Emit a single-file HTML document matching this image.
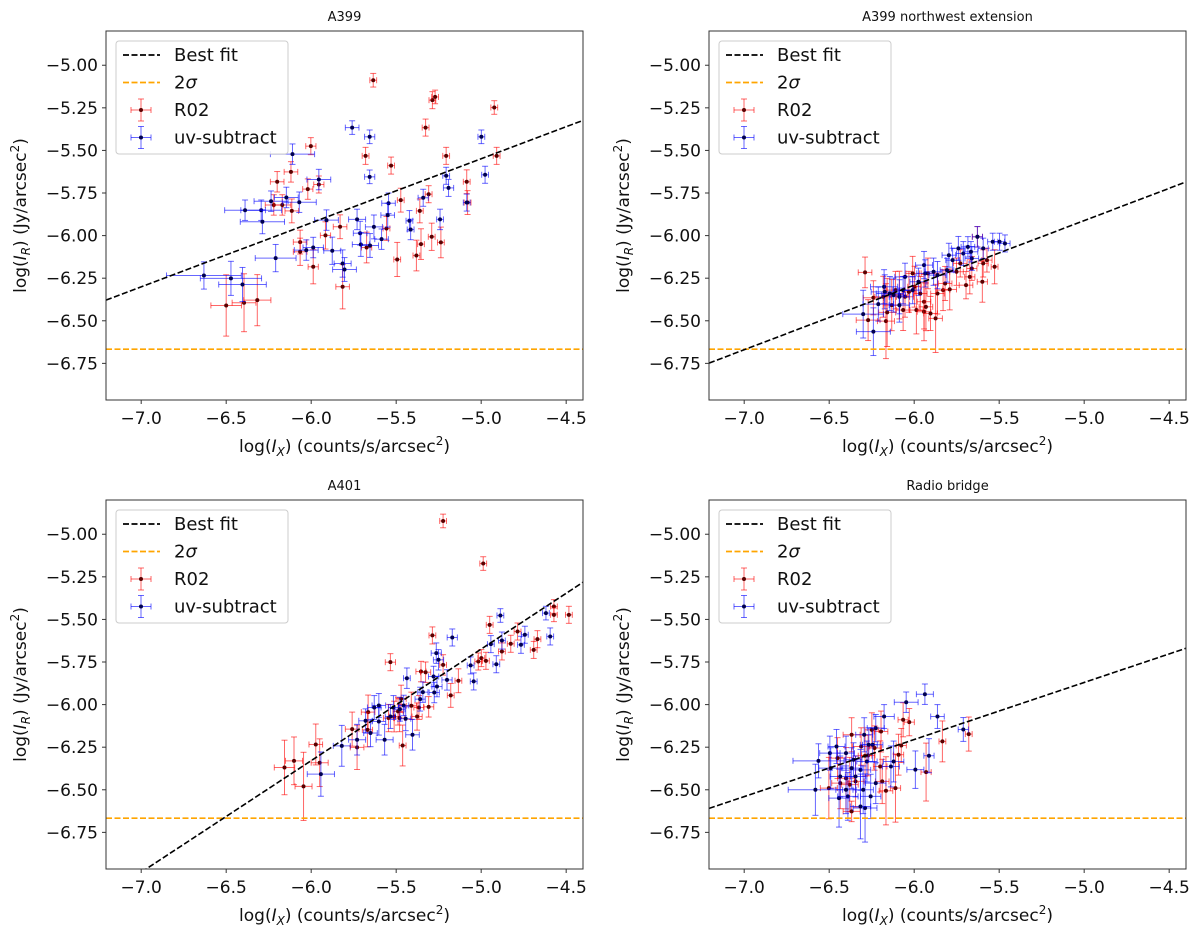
<!DOCTYPE html>
<html><head><meta charset="utf-8"><style>
html,body{margin:0;padding:0;background:#fff}
svg{display:block;font-family:"DejaVu Sans","Liberation Sans",sans-serif}
</style></head><body>
<svg id="fig" width="1200" height="936" viewBox="0 0 1200 936" xmlns="http://www.w3.org/2000/svg"></svg>
<script>
// ---- data (x, y, xerr, yerr) ----
const xTicks = [-7.0, -6.5, -6.0, -5.5, -5.0, -4.5];
const xTickLabels = ["\u22127.0","\u22126.5","\u22126.0","\u22125.5","\u22125.0","\u22124.5"];
const yTicks = [-5.00, -5.25, -5.50, -5.75, -6.00, -6.25, -6.50, -6.75];
const yTickLabels = ["\u22125.00","\u22125.25","\u22125.50","\u22125.75","\u22126.00","\u22126.25","\u22126.50","\u22126.75"];
const panelTitles = ["A399","A399 northwest extension","A401","Radio bridge"];
const sigma2 = -6.667;
const fit1 = [0.376, -3.669];
const fit2 = [0.379, -4.017];
const fit3 = [0.655, -2.399];
const fit4 = [0.335, -4.195];

const p1Red = [
[-5.635,-5.088,0.02,0.04],[-5.287,-5.205,0.02,0.05],[-5.271,-5.186,0.02,0.04],[-4.923,-5.248,0.02,0.04],
[-5.327,-5.366,0.02,0.05],[-4.909,-5.532,0.02,0.05],[-5.206,-5.532,0.02,0.05],[-5.530,-5.589,0.02,0.05],
[-5.680,-5.532,0.02,0.05],[-6.002,-5.475,0.03,0.05],[-6.119,-5.626,0.04,0.06],[-6.200,-5.684,0.04,0.06],
[-6.020,-5.727,0.03,0.06],[-5.955,-5.700,0.03,0.05],[-5.085,-5.684,0.02,0.07],[-5.309,-5.757,0.02,0.05],
[-5.473,-5.792,0.02,0.07],[-5.361,-5.855,0.02,0.07],[-5.080,-5.806,0.02,0.07],[-6.220,-5.820,0.05,0.06],
[-6.170,-5.820,0.05,0.06],[-6.114,-5.855,0.04,0.07],[-5.830,-5.948,0.04,0.07],[-5.557,-5.958,0.02,0.07],
[-5.916,-5.999,0.03,0.08],[-5.291,-6.007,0.02,0.08],[-5.237,-6.040,0.02,0.09],[-5.354,-6.050,0.02,0.09],
[-5.674,-6.070,0.03,0.09],[-6.065,-6.038,0.04,0.07],[-6.065,-6.095,0.04,0.08],[-5.988,-6.183,0.03,0.10],
[-5.381,-6.117,0.02,0.09],[-5.494,-6.140,0.02,0.10],[-5.815,-6.300,0.04,0.13],[-6.500,-6.410,0.09,0.18],
[-6.395,-6.394,0.07,0.17],[-6.317,-6.379,0.08,0.15]
];
const p1Blue = [
[-5.759,-5.366,0.04,0.04],[-5.656,-5.420,0.03,0.04],[-5.656,-5.655,0.03,0.04],[-4.999,-5.420,0.02,0.04],
[-4.977,-5.643,0.02,0.05],[-6.110,-5.522,0.13,0.06],[-5.955,-5.671,0.07,0.06],[-5.206,-5.649,0.02,0.05],
[-5.192,-5.720,0.03,0.05],[-5.085,-5.806,0.02,0.05],[-5.341,-5.778,0.03,0.05],[-5.545,-5.810,0.04,0.06],
[-6.146,-5.776,0.07,0.06],[-6.070,-5.804,0.10,0.06],[-6.236,-5.798,0.10,0.06],[-6.294,-5.851,0.12,0.06],
[-6.287,-5.919,0.13,0.07],[-6.389,-5.851,0.12,0.06],[-5.422,-5.913,0.02,0.06],[-5.415,-5.964,0.02,0.06],
[-5.242,-5.905,0.02,0.06],[-5.730,-5.905,0.05,0.06],[-5.712,-5.986,0.04,0.07],[-5.631,-5.949,0.05,0.07],
[-5.550,-5.880,0.04,0.07],[-5.586,-6.021,0.04,0.06],[-5.708,-6.052,0.05,0.07],[-5.654,-6.058,0.05,0.07],
[-5.910,-5.909,0.07,0.06],[-6.029,-6.085,0.07,0.06],[-5.988,-6.070,0.06,0.06],[-5.876,-6.089,0.05,0.08],
[-6.209,-6.132,0.12,0.08],[-5.815,-6.164,0.05,0.08],[-5.804,-6.199,0.07,0.07],[-6.631,-6.234,0.22,0.08],
[-6.472,-6.251,0.18,0.10],[-6.404,-6.287,0.14,0.10]
];
const p2Red = [
[-6.289,-6.216,0.04,0.09],[-6.271,-6.496,0.07,0.12],[-6.240,-6.365,0.06,0.10],[-6.166,-6.502,0.05,0.22],
[-6.159,-6.451,0.05,0.20],[-6.132,-6.408,0.05,0.15],[-6.110,-6.320,0.05,0.11],[-6.087,-6.349,0.05,0.14],
[-6.054,-6.359,0.05,0.12],[-6.031,-6.330,0.04,0.12],[-5.998,-6.300,0.04,0.12],[-5.987,-6.437,0.04,0.14],
[-5.964,-6.340,0.04,0.10],[-5.942,-6.388,0.04,0.16],[-5.942,-6.447,0.04,0.17],[-5.931,-6.418,0.04,0.14],
[-5.904,-6.457,0.04,0.10],[-5.874,-6.486,0.04,0.20],[-5.863,-6.340,0.04,0.12],[-5.830,-6.320,0.04,0.12],
[-5.818,-6.281,0.04,0.10],[-5.791,-6.316,0.04,0.12],[-5.751,-6.212,0.04,0.08],[-5.695,-6.291,0.04,0.08],
[-5.673,-6.242,0.03,0.10],[-5.661,-6.193,0.03,0.07],[-5.628,-6.007,0.03,0.06],[-5.599,-6.271,0.03,0.12],
[-5.594,-6.163,0.03,0.08],[-5.527,-6.183,0.02,0.10],[-5.572,-6.144,0.03,0.07],[-6.009,-6.222,0.04,0.10],
[-6.065,-6.437,0.04,0.12],[-5.919,-6.222,0.04,0.09],[-6.182,-6.359,0.05,0.12],[-5.729,-6.163,0.04,0.08]
];
const p2Blue = [
[-6.300,-6.461,0.12,0.14],[-6.240,-6.564,0.10,0.14],[-6.177,-6.300,0.08,0.10],[-6.173,-6.330,0.08,0.10],
[-6.143,-6.340,0.08,0.10],[-6.087,-6.359,0.06,0.10],[-6.054,-6.242,0.06,0.08],[-6.087,-6.408,0.06,0.10],
[-6.065,-6.320,0.06,0.08],[-5.975,-6.271,0.05,0.08],[-5.942,-6.173,0.05,0.08],[-5.935,-6.222,0.05,0.08],
[-5.886,-6.212,0.05,0.08],[-5.863,-6.232,0.05,0.08],[-5.807,-6.203,0.04,0.07],[-5.796,-6.115,0.04,0.07],
[-5.774,-6.144,0.04,0.07],[-5.740,-6.075,0.04,0.07],[-5.711,-6.105,0.04,0.07],[-5.684,-6.066,0.04,0.06],
[-5.661,-6.134,0.04,0.07],[-5.628,-6.007,0.03,0.06],[-5.594,-6.075,0.03,0.06],[-5.538,-6.036,0.03,0.05],
[-5.498,-6.036,0.03,0.05],[-5.466,-6.046,0.03,0.05],[-5.666,-6.095,0.04,0.06],[-6.009,-6.320,0.05,0.08],
[-6.211,-6.402,0.09,0.10],[-6.121,-6.349,0.07,0.10]
];
const p3Red = [
[-5.224,-4.922,0.02,0.04],[-4.988,-5.172,0.02,0.04],[-4.572,-5.424,0.02,0.04],[-4.572,-5.473,0.02,0.04],
[-4.484,-5.473,0.02,0.05],[-4.950,-5.532,0.02,0.05],[-5.287,-5.594,0.02,0.05],[-4.786,-5.571,0.02,0.05],
[-4.826,-5.643,0.02,0.05],[-4.669,-5.616,0.02,0.05],[-4.691,-5.679,0.02,0.05],[-4.878,-5.688,0.02,0.05],
[-5.017,-5.747,0.02,0.05],[-4.999,-5.727,0.02,0.05],[-4.972,-5.743,0.02,0.05],[-5.534,-5.751,0.03,0.05],
[-5.224,-5.767,0.02,0.06],[-5.354,-5.806,0.03,0.06],[-5.327,-5.810,0.03,0.06],[-5.134,-5.860,0.02,0.07],
[-5.179,-5.946,0.02,0.07],[-5.366,-6.017,0.03,0.07],[-5.309,-6.013,0.03,0.06],[-5.377,-6.070,0.03,0.08],
[-5.411,-6.007,0.03,0.08],[-5.471,-5.966,0.03,0.08],[-5.489,-6.040,0.03,0.08],[-5.545,-6.079,0.03,0.08],
[-5.512,-6.070,0.03,0.09],[-5.480,-6.079,0.03,0.08],[-5.665,-6.044,0.04,0.10],[-5.669,-6.148,0.03,0.10],
[-5.759,-6.144,0.04,0.10],[-5.730,-6.251,0.04,0.13],[-5.462,-6.240,0.02,0.12],[-5.973,-6.234,0.04,0.12],
[-5.950,-6.341,0.05,0.14],[-6.157,-6.369,0.06,0.16],[-6.101,-6.330,0.05,0.14],[-6.045,-6.480,0.05,0.20]
];
const p3Blue = [
[-4.887,-5.477,0.02,0.04],[-4.619,-5.463,0.02,0.04],[-4.594,-5.600,0.02,0.05],[-4.743,-5.590,0.02,0.05],
[-4.766,-5.649,0.02,0.05],[-4.878,-5.624,0.02,0.05],[-4.943,-5.645,0.02,0.05],[-5.170,-5.606,0.03,0.05],
[-5.264,-5.698,0.03,0.06],[-5.251,-5.737,0.03,0.06],[-5.062,-5.770,0.02,0.05],[-4.911,-5.763,0.02,0.05],
[-5.044,-5.864,0.02,0.05],[-5.437,-5.845,0.02,0.06],[-5.280,-5.835,0.03,0.06],[-5.201,-5.855,0.03,0.06],
[-5.260,-5.894,0.03,0.06],[-5.343,-5.927,0.03,0.06],[-5.276,-5.929,0.03,0.06],[-5.359,-5.968,0.03,0.07],
[-5.456,-6.005,0.03,0.06],[-5.516,-6.017,0.03,0.07],[-5.478,-6.027,0.03,0.07],[-5.534,-6.070,0.03,0.07],
[-5.444,-6.083,0.03,0.07],[-5.602,-6.005,0.04,0.07],[-5.629,-6.017,0.04,0.07],[-5.680,-6.095,0.04,0.07],
[-5.602,-6.099,0.04,0.08],[-5.651,-6.167,0.04,0.08],[-5.730,-6.206,0.05,0.09],[-5.568,-6.206,0.05,0.09],
[-5.404,-6.177,0.04,0.09],[-5.820,-6.242,0.05,0.12],[-5.943,-6.408,0.08,0.13]
];
const p4Red = [
[-5.679,-6.173,0.02,0.10],[-5.834,-6.216,0.02,0.12],[-5.930,-6.396,0.03,0.17],[-6.029,-6.103,0.03,0.08],
[-6.065,-6.089,0.03,0.10],[-6.110,-6.490,0.03,0.20],[-6.092,-6.294,0.03,0.12],[-6.076,-6.240,0.03,0.10],
[-6.195,-6.158,0.04,0.12],[-6.200,-6.363,0.04,0.15],[-6.188,-6.451,0.04,0.13],[-6.233,-6.255,0.04,0.13],
[-6.271,-6.298,0.04,0.12],[-6.289,-6.300,0.04,0.12],[-6.312,-6.246,0.05,0.11],[-6.345,-6.451,0.05,0.15],
[-6.379,-6.470,0.05,0.16],[-6.401,-6.432,0.05,0.18],[-6.435,-6.461,0.05,0.15],[-6.451,-6.314,0.05,0.12],
[-6.502,-6.490,0.05,0.18],[-6.368,-6.177,0.05,0.10],[-6.249,-6.148,0.04,0.10],[-6.166,-6.506,0.04,0.20],
[-6.368,-6.627,0.05,0.06]
];
const p4Blue = [
[-5.937,-5.939,0.05,0.06],[-6.047,-5.986,0.07,0.06],[-6.177,-6.070,0.06,0.07],[-5.863,-6.070,0.04,0.07],
[-5.711,-6.146,0.03,0.07],[-5.913,-6.300,0.03,0.10],[-5.993,-6.382,0.05,0.11],[-6.121,-6.334,0.06,0.12],
[-6.137,-6.363,0.05,0.12],[-6.226,-6.138,0.05,0.08],[-6.244,-6.236,0.06,0.10],[-6.256,-6.539,0.06,0.13],
[-6.289,-6.607,0.07,0.20],[-6.316,-6.598,0.06,0.19],[-6.390,-6.539,0.06,0.14],[-6.442,-6.549,0.06,0.17],
[-6.581,-6.500,0.16,0.15],[-6.563,-6.330,0.15,0.10],[-6.496,-6.285,0.06,0.10],[-6.457,-6.246,0.05,0.10],
[-6.401,-6.285,0.05,0.10],[-6.357,-6.324,0.05,0.10],[-6.345,-6.422,0.06,0.12],[-6.316,-6.383,0.06,0.12],
[-6.300,-6.500,0.06,0.14],[-6.278,-6.334,0.06,0.12],[-6.226,-6.461,0.06,0.12],[-6.435,-6.422,0.06,0.12],
[-6.368,-6.373,0.06,0.12],[-6.491,-6.373,0.07,0.12],[-6.401,-6.500,0.06,0.14],[-6.294,-6.177,0.05,0.10],
[-6.267,-6.236,0.05,0.10]
];

// ---- layout ----
const NS = "http://www.w3.org/2000/svg";
const svg = document.getElementById('fig');
const XMIN = -7.207, XMAX = -4.401, YMIN = -6.965, YMAX = -4.799;
const panels = [
  {x0:106, y0:31, red:p1Red, blue:p1Blue, fit:fit1},
  {x0:709, y0:31, red:p2Red, blue:p2Blue, fit:fit2},
  {x0:106, y0:500, red:p3Red, blue:p3Blue, fit:fit3},
  {x0:709, y0:500, red:p4Red, blue:p4Blue, fit:fit4}
];
const W = 477, H = 369;

function mk(tag, attrs, parent){
  const e = document.createElementNS(NS, tag);
  for (const k in attrs) e.setAttribute(k, attrs[k]);
  parent.appendChild(e);
  return e;
}

panels.forEach((p, i) => {
  const sx = v => p.x0 + (v - XMIN) / (XMAX - XMIN) * W;
  const sy = v => p.y0 + (YMAX - v) / (YMAX - YMIN) * H;
  const g = mk('g', {}, svg);
  
  

  const clipId = 'clip' + i;
  const cp = mk('clipPath', {id: clipId}, g);
  mk('rect', {x:p.x0, y:p.y0, width:W, height:H}, cp);

  const plot = mk('g', {'clip-path':'url(#'+clipId+')'}, g);
  
  

  // series
  [['red', p.red, 'rgba(255,0,0,0.6)', '#5a0000'], ['blue', p.blue, 'rgba(0,0,255,0.6)', '#000050']].forEach(([nm, arr, col, dot]) => {
    const sg = mk('g', {}, plot);
    
    
    arr.forEach(d => {
      const cx = sx(d[0]), cy = sy(d[1]);
      const x1 = sx(d[0]-d[2]), x2 = sx(d[0]+d[2]);
      const y1 = sy(d[1]+d[3]), y2 = sy(d[1]-d[3]);
      const pt = mk('g', {stroke:col, 'stroke-width':1}, sg);
      
      
      mk('line', {x1:x1, y1:cy, x2:x2, y2:cy}, pt);
      mk('line', {x1:cx, y1:y1, x2:cx, y2:y2}, pt);
      mk('line', {x1:cx-3, y1:y1, x2:cx+3, y2:y1}, pt);
      mk('line', {x1:cx-3, y1:y2, x2:cx+3, y2:y2}, pt);
      mk('line', {x1:x1, y1:cy-3, x2:x1, y2:cy+3}, pt);
      mk('line', {x1:x2, y1:cy-3, x2:x2, y2:cy+3}, pt);
      mk('circle', {cx:cx, cy:cy, r:2, fill:dot, stroke:'none'}, pt);
    });
  });

  // 2 sigma line
  const sl = mk('line', {x1:sx(XMIN), x2:sx(XMAX), y1:sy(sigma2), y2:sy(sigma2), stroke:'#ffa500', 'stroke-width':1.6, 'stroke-dasharray':'6,2.5'}, plot);
  
  
  // best fit
  const fl = mk('line', {x1:sx(XMIN), x2:sx(XMAX), y1:sy(p.fit[0]*XMIN+p.fit[1]), y2:sy(p.fit[0]*XMAX+p.fit[1]), stroke:'#000', 'stroke-width':1.6, 'stroke-dasharray':'6,2.5'}, plot);
  
  

  // frame
  const fr = mk('rect', {x:p.x0, y:p.y0, width:W, height:H, fill:'none', stroke:'#333', 'stroke-width':1}, g);
  
  

  // ticks
  xTicks.forEach((t, k) => {
    const x = sx(t);
    const tl = mk('line', {x1:x, x2:x, y1:p.y0+H, y2:p.y0+H+4, stroke:'#333'}, g);
    
    
    const tx = mk('text', {x:x, y:p.y0+H+24, 'font-size':17, 'text-anchor':'middle', fill:'#111'}, g);
    
    
    tx.textContent = xTickLabels[k];
  });
  yTicks.forEach((t, k) => {
    const y = sy(t);
    const tl = mk('line', {x1:p.x0-4, x2:p.x0, y1:y, y2:y, stroke:'#333'}, g);
    
    
    const tx = mk('text', {x:p.x0-8, y:y+6, 'font-size':17, 'text-anchor':'end', fill:'#111'}, g);
    
    
    tx.textContent = yTickLabels[k];
  });

  // title
  const tt = mk('text', {x:p.x0+W/2, y:p.y0-10, 'font-size':13, 'text-anchor':'middle', fill:'#111'}, g);
  
  
  tt.textContent = panelTitles[i];

  // axis labels
  const xl = mk('text', {x:p.x0+W/2, y:p.y0+H+52, 'font-size':17, 'text-anchor':'middle', fill:'#111'}, g);
  
  
  xl.innerHTML = 'log(<tspan font-style="italic">I</tspan><tspan font-style="italic" font-size="12" dy="4">X</tspan><tspan dy="-4">) (counts/s/arcsec</tspan><tspan font-size="12" dy="-7">2</tspan><tspan dy="7">)</tspan>';
  const yx = p.x0 - 80, yy = p.y0 + H/2;
  const yl = mk('text', {x:yx, y:yy, 'font-size':17, 'text-anchor':'middle', fill:'#111', transform:'rotate(-90 '+yx+' '+yy+')'}, g);
  
  
  yl.innerHTML = 'log(<tspan font-style="italic">I</tspan><tspan font-style="italic" font-size="12" dy="4">R</tspan><tspan dy="-4">) (Jy/arcsec</tspan><tspan font-size="12" dy="-7">2</tspan><tspan dy="7">)</tspan>';

  // legend
  const lg = mk('g', {}, g);
  
  
  const lx = p.x0 + 10, ly = p.y0 + 10;
  mk('rect', {x:lx, y:ly, width:172, height:113, rx:3, fill:'#fff', 'fill-opacity':0.85, stroke:'#ccc'}, lg);
  const entries = [['Best fit','line','#000'],['2\u03c3','line','#ffa500'],['R02','err','rgba(255,0,0,0.6)'],['uv-subtract','err','rgba(0,0,255,0.6)']];
  entries.forEach((en, k) => {
    const ey = ly + 14 + k*27.5;
    const eg = mk('g', {}, lg);
    
    
    if (en[1] === 'line') {
      mk('line', {x1:lx+7, x2:lx+44, y1:ey, y2:ey, stroke:en[2], 'stroke-width':1.8, 'stroke-dasharray':'6,2.5'}, eg);
    } else {
      const cx = lx + 25;
      mk('line', {x1:cx-10, x2:cx+10, y1:ey, y2:ey, stroke:en[2]}, eg);
      mk('line', {x1:cx, x2:cx, y1:ey-11, y2:ey+11, stroke:en[2]}, eg);
      mk('line', {x1:cx-3, x2:cx+3, y1:ey-11, y2:ey-11, stroke:en[2]}, eg);
      mk('line', {x1:cx-3, x2:cx+3, y1:ey+11, y2:ey+11, stroke:en[2]}, eg);
      mk('line', {x1:cx-10, x2:cx-10, y1:ey-3, y2:ey+3, stroke:en[2]}, eg);
      mk('line', {x1:cx+10, x2:cx+10, y1:ey-3, y2:ey+3, stroke:en[2]}, eg);
      mk('circle', {cx:cx, cy:ey, r:2, fill: k===2 ? '#5a0000' : '#000050'}, eg);
    }
    const t = mk('text', {x:lx+58, y:ey+6, 'font-size':18, fill:'#111'}, eg);
    if (en[0] === '2\u03c3') t.innerHTML = '2<tspan font-style="italic">\u03c3</tspan>';
    else t.textContent = en[0];
  });
});
</script>
</body></html>
